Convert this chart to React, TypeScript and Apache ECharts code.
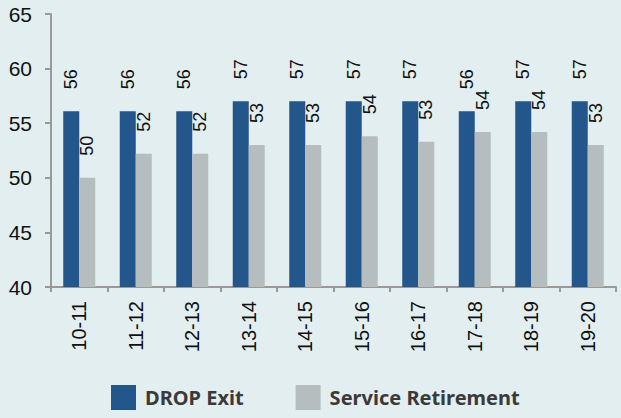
import React, { useEffect, useRef } from "react";
import * as echarts from "echarts";

const categories = ["10-11", "11-12", "12-13", "13-14", "14-15", "15-16", "16-17", "17-18", "18-19", "19-20"];
const dropExit = [56.1, 56.1, 56.1, 57.0, 57.0, 57.0, 57.0, 56.1, 57.0, 57.0];
const serviceRetirement = [50.0, 52.2, 52.2, 53.0, 53.0, 53.8, 53.3, 54.2, 54.2, 53.0];
const seriesNames = ["DROP Exit", "Service Retirement"];

export default function App() {
  const ref = useRef<HTMLDivElement>(null);
  useEffect(() => {
    if (!ref.current) return;
    const chart = echarts.init(ref.current, undefined, { renderer: "svg" });
    const label = {
      show: true,
      position: "top",
      rotate: 90,
      align: "left",
      verticalAlign: "middle",
      distance: 22,
      color: "#111",
      fontSize: 18,
      fontFamily: "Arial, sans-serif",
      formatter: (p: any) => String(Math.round(p.value)),
    };
    chart.setOption({
      animation: false,
      backgroundColor: "#e2eef0",
      grid: { left: 51, right: 5, top: 14, bottom: 131, containLabel: false },
      legend: {
        bottom: 3,
        left: 106,
        itemWidth: 25,
        itemHeight: 25,
        itemGap: 52,
        icon: "rect",
        textStyle: { fontSize: 20, fontWeight: "bold", color: "#3a3a3a", fontFamily: "Noto Sans, sans-serif", padding: [0, 0, 0, 4] },
        data: seriesNames,
      },
      xAxis: {
        type: "category",
        data: categories,
        axisLine: { lineStyle: { color: "#999", width: 2 } },
        axisTick: { show: true, length: 5, lineStyle: { color: "#999", width: 2 } },
        axisLabel: { rotate: 90, fontSize: 20, color: "#111", margin: 14, fontFamily: "Arial, sans-serif" },
      },
      yAxis: {
        type: "value",
        min: 40,
        max: 65,
        interval: 5,
        splitLine: { show: false },
        axisLine: { show: true, lineStyle: { color: "#999", width: 2 } },
        axisTick: { show: true, length: 6, lineStyle: { color: "#999", width: 2 } },
        axisLabel: { fontSize: 21, color: "#111", margin: 19, fontFamily: "Arial, sans-serif" },
      },
      series: [
        {
          name: seriesNames[0],
          type: "bar",
          data: dropExit,
          barWidth: 16,
          barGap: "0%",
          itemStyle: { color: "#23568a" },
          label,
        },
        {
          name: seriesNames[1],
          type: "bar",
          data: serviceRetirement,
          barWidth: 16,
          barGap: "0%",
          itemStyle: { color: "#b6bdbf" },
          label,
        },
      ],
    });
    return () => chart.dispose();
  }, []);
  return <div ref={ref} style={{ width: 621, height: 418, position: "fixed", left: 0, top: 0 }} />;
}
